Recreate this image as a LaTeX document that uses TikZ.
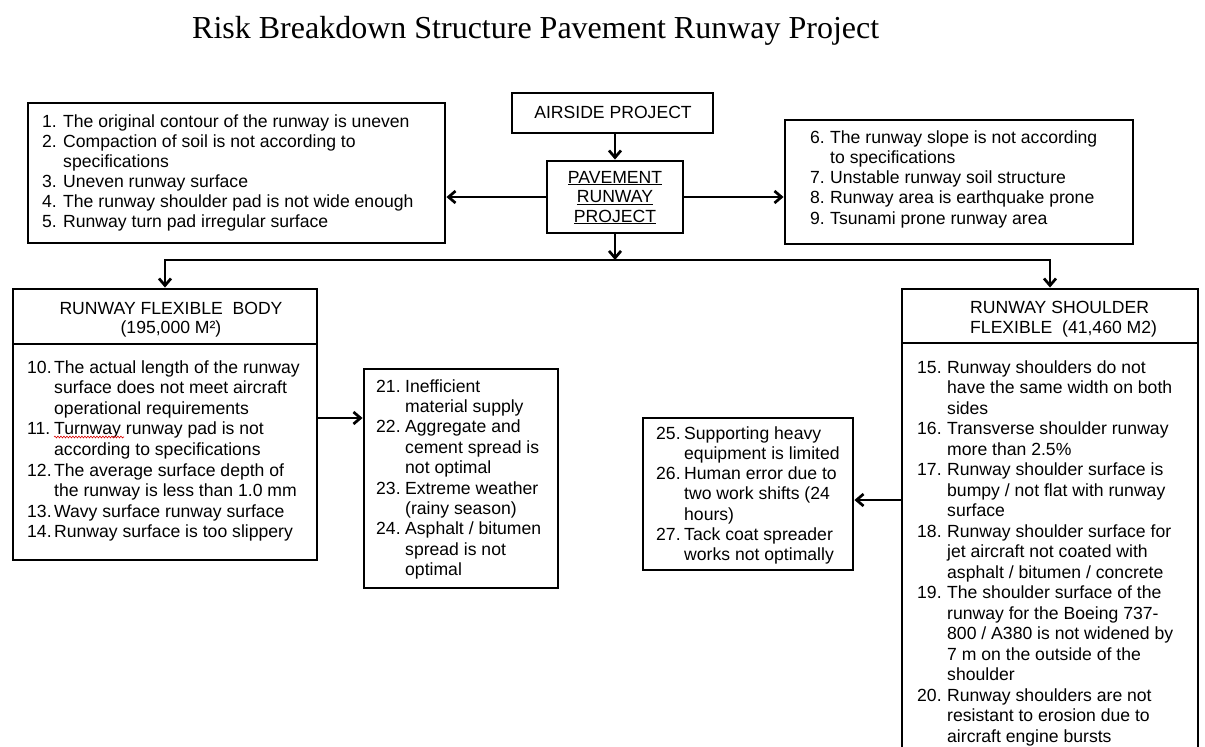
\documentclass[tikz,border=0pt]{standalone}
\usepackage{fontspec}
\setmainfont{Liberation Sans}
\newfontfamily\ttlfont{Liberation Serif}
\usetikzlibrary{arrows.meta,decorations.pathmorphing}

\tikzset{
  box/.style={draw, line width=2.9pt, inner sep=0pt, anchor=center},
  txt/.style={inner sep=0pt, anchor=base west, font={\fontsize{17.6}{20.4}\selectfont}},
  ctxt/.style={inner sep=0pt, anchor=base, font={\fontsize{17.6}{19.5}\selectfont}},
  link/.style={line width=2.7pt, -{Straight Barb[length=7pt,width=12pt]}},
}

\begin{document}
\begin{tikzpicture}[x=1pt, y=-1pt]
\useasboundingbox (0,0) rectangle (1205,747);
\clip (0,0) rectangle (1205,747);

% title
\node[inner sep=0pt, anchor=base west, font={\ttlfont\fontsize{32}{36}\selectfont}] (title) at (192,38)
  {Risk Breakdown Structure Pavement Runway Project};

% boxes
\node[box, minimum width=417pt, minimum height=140pt] (tl)  at (236.5,173) {};
\node[box, minimum width=201pt, minimum height=40pt]  (air) at (612.5,113) {};
\node[box, minimum width=136pt, minimum height=72pt]  (pav) at (615,197) {};
\node[box, minimum width=348pt, minimum height=124pt] (tr)  at (959,182) {};
\node[box, minimum width=304pt, minimum height=55pt]  (lh)  at (165,316.5) {};
\node[box, minimum width=304pt, minimum height=216pt] (ll)  at (165,452) {};
\node[box, minimum width=194pt, minimum height=219pt] (mid) at (461,478.5) {};
\node[box, minimum width=296pt, minimum height=54pt]  (rh)  at (1050,316) {};
\node[box, minimum width=296pt, minimum height=427pt] (rl)  at (1050,556.5) {};
\node[box, minimum width=210pt, minimum height=152pt] (rm)  at (748,494) {};

% box texts
\node[ctxt] (airtxt) at (613,118) {AIRSIDE PROJECT};
\node[ctxt] (pavtxt) at (615,183) {\begin{tabular}[t]{@{}c@{}}\underline{PAVEMENT}\\ \underline{RUNWAY}\\ \underline{PROJECT}\end{tabular}};
\node[ctxt] (lhtxt) at (171,314) {\begin{tabular}[t]{@{}c@{}}RUNWAY FLEXIBLE\ \ BODY\\ (195,000 M²)\end{tabular}};
\node[txt] (rhtxt) at (970,313) {\begin{tabular}[t]{@{}l@{}}RUNWAY SHOULDER\\ FLEXIBLE\ \ (41,460 M2)\end{tabular}};

\node[txt, font={\fontsize{17.6}{20}\selectfont}] (tltxt) at (42,127) {\begin{tabular}[t]{@{}p{21pt}@{}l@{}}
1. & The original contour of the runway is uneven\\
2. & Compaction of soil is not according to\\
   & specifications\\
3. & Uneven runway surface\\
4. & The runway shoulder pad is not wide enough\\
5. & Runway turn pad irregular surface
\end{tabular}};

\node[txt, font={\fontsize{17.6}{20.3}\selectfont}] (trtxt) at (810,143) {\begin{tabular}[t]{@{}p{20pt}@{}l@{}}
6. & The runway slope is not according\\
   & to specifications\\
7. & Unstable runway soil structure\\
8. & Runway area is earthquake prone\\
9. & Tsunami prone runway area
\end{tabular}};

\node[txt, font={\fontsize{17.6}{20.6}\selectfont}] (lltxt) at (27,373) {\begin{tabular}[t]{@{}p{27pt}@{}l@{}}
10. & The actual length of the runway\\
    & surface does not meet aircraft\\
    & operational requirements\\
11. & Turnway runway pad is not\\
    & according to specifications\\
12. & The average surface depth of\\
    & the runway is less than 1.0 mm\\
13. & Wavy surface runway surface\\
14. & Runway surface is too slippery
\end{tabular}};

\node[txt] (midtxt) at (376,392) {\begin{tabular}[t]{@{}p{29pt}@{}l@{}}
21. & Inefficient\\
    & material supply\\
22. & Aggregate and\\
    & cement spread is\\
    & not optimal\\
23. & Extreme weather\\
    & (rainy season)\\
24. & Asphalt / bitumen\\
    & spread is not\\
    & optimal
\end{tabular}};

\node[txt, font={\fontsize{17.6}{20.3}\selectfont}] (rmtxt) at (656,439) {\begin{tabular}[t]{@{}p{28pt}@{}l@{}}
25. & Supporting heavy\\
    & equipment is limited\\
26. & Human error due to\\
    & two work shifts (24\\
    & hours)\\
27. & Tack coat spreader\\
    & works not optimally
\end{tabular}};

\node[txt, font={\fontsize{17.6}{20.5}\selectfont}] (rltxt) at (917,373) {\begin{tabular}[t]{@{}p{30pt}@{}l@{}}
15. & Runway shoulders do not\\
    & have the same width on both\\
    & sides\\
16. & Transverse shoulder runway\\
    & more than 2.5\%\\
17. & Runway shoulder surface is\\
    & bumpy / not flat with runway\\
    & surface\\
18. & Runway shoulder surface for\\
    & jet aircraft not coated with\\
    & asphalt / bitumen / concrete\\
19. & The shoulder surface of the\\
    & runway for the Boeing 737-\\
    & 800 / A380 is not widened by\\
    & 7 m on the outside of the\\
    & shoulder\\
20. & Runway shoulders are not\\
    & resistant to erosion due to\\
    & aircraft engine bursts
\end{tabular}};

% spell-check mark under "Turnway"
\draw[red!85!black, line width=0.6pt, decorate,
      decoration={snake, amplitude=0.9pt, segment length=3pt}] (54,437) -- (124,437);

% connectors
\coordinate (jn) at (615,260);
\coordinate (llout) at (317,418);
\coordinate (rlout) at (902,500);
\draw[link] (air.south -| pav.north) -- (pav.north);
\draw[link] (pav.west) -- (tl.east |- pav.west);
\draw[link] (pav.east) -- (tr.west |- pav.east);
\draw[link] (pav.south) -- (jn);
\draw[link] (jn) -| (lh.north);
\draw[link] (jn) -| (rh.north);
\draw[link] (ll.east |- llout) -- (mid.west |- llout);
\draw[link] (rl.west |- rlout) -- (rm.east |- rlout);
\end{tikzpicture}
\end{document}
